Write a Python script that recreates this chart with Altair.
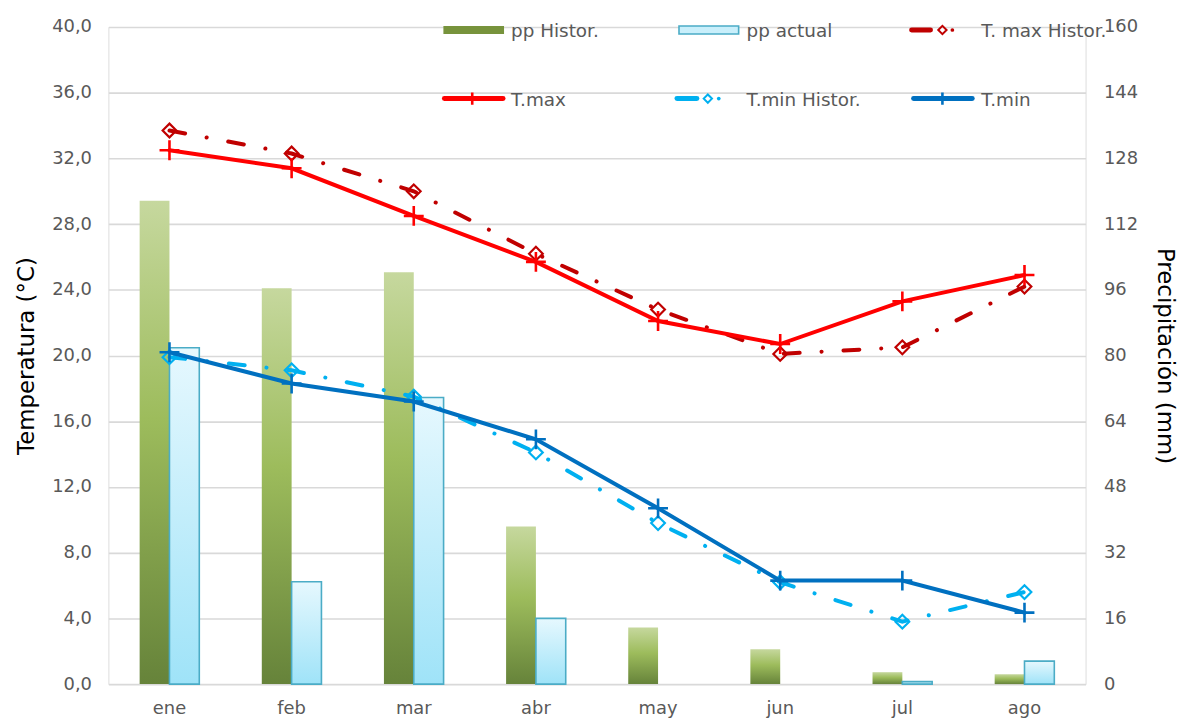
import altair as alt
import pandas as pd

months = ["ene", "feb", "mar", "abr", "may", "jun", "jul", "ago"]
pp_hist = [117.7, 96.4, 100.3, 38.4, 13.8, 8.5, 2.9, 2.4]
pp_act = [81.9, 24.9, 69.8, 16.0, 0.0, 0.0, 0.6, 5.6]
tmax_hist = [33.7, 32.3, 30.0, 26.2, 22.8, 20.1, 20.5, 24.2]
tmax = [32.5, 31.4, 28.5, 25.7, 22.1, 20.7, 23.3, 24.9]
tmin_hist = [19.9, 19.1, 17.5, 14.1, 9.8, 6.2, 3.8, 5.6]
tmin = [20.2, 18.3, 17.2, 14.9, 10.7, 6.3, 6.3, 4.35]
temp_ticks = list(range(0, 41, 4))
pp_ticks = list(range(0, 161, 16))

FONT = "DejaVu Sans"
GRAY = "#595959"

df = pd.DataFrame({
    "mes": months, "pp_hist": pp_hist, "pp_act": pp_act,
    "tmax_hist": tmax_hist, "tmax": tmax, "tmin_hist": tmin_hist, "tmin": tmin,
})
one = pd.DataFrame({"k": [0]})

W, H = 983, 661

xenc = alt.X("mes:N", sort=months,
             scale=alt.Scale(type="band", domain=months, paddingInner=0, paddingOuter=0),
             axis=alt.Axis(title=None, domain=False, ticks=False, grid=False,
                           labelAngle=0, labelFont=FONT, labelFontSize=18,
                           labelColor=GRAY, labelPadding=16))

green_grad = {"gradient": "linear", "x1": 0, "y1": 0, "x2": 0, "y2": 1,
              "stops": [{"offset": 0, "color": "#c6d89e"},
                        {"offset": 0.45, "color": "#9dbc5c"},
                        {"offset": 1, "color": "#66833a"}]}
blue_grad = {"gradient": "linear", "x1": 0, "y1": 0, "x2": 0, "y2": 1,
             "stops": [{"offset": 0, "color": "#e6f8fe"},
                       {"offset": 1, "color": "#9fe3f8"}]}

pp_axis = alt.Axis(orient="right", values=pp_ticks, grid=False, domain=False, ticks=False,
                   labelFont=FONT, labelFontSize=18, labelColor=GRAY, labelPadding=18,
                   title="Precipitación (mm)", titleFont=FONT, titleFontSize=23,
                   titleFontWeight="normal", titleColor="#000000", titlePadding=15)
pp_scale = alt.Scale(domain=[0, 160], nice=False, zero=True)

bar_hist = alt.Chart(df).mark_bar(width=30, xOffset=-15, fill=green_grad).encode(
    x=xenc, y=alt.Y("pp_hist:Q", scale=pp_scale, axis=pp_axis))
bar_act = alt.Chart(df).transform_filter("datum.pp_act > 0").mark_bar(
    width=30, xOffset=15, fill=blue_grad, stroke="#4bacc6", strokeWidth=1.6).encode(
    x=xenc, y=alt.Y("pp_act:Q", scale=pp_scale, axis=pp_axis))
bars = alt.layer(bar_hist, bar_act)

t_axis = alt.Axis(orient="left", values=temp_ticks, grid=True, gridColor="#d9d9d9",
                  gridWidth=1.6, domain=False, ticks=False,
                  labelExpr="replace(format(datum.value, '.1f'), '.', ',')",
                  labelFont=FONT, labelFontSize=18, labelColor=GRAY, labelPadding=17,
                  title="Temperatura (°C)", titleFont=FONT, titleFontSize=23,
                  titleFontWeight="normal", titleColor="#000000", titlePadding=13)
t_scale = alt.Scale(domain=[0, 40], nice=False, zero=True)

PLUS = "M-1,0L1,0M0,-1L0,1"
DASH = [16, 22, 0.1, 22]


def series(field, color, dashed, shape, size):
    base = alt.Chart(df).encode(x=xenc, y=alt.Y(f"{field}:Q", scale=t_scale, axis=t_axis))
    if dashed:
        line = base.mark_line(color=color, strokeWidth=4, strokeDash=DASH, strokeCap="round")
    else:
        line = base.mark_line(color=color, strokeWidth=4, strokeCap="round")
    pts = base.mark_point(shape=shape, size=size, filled=False, color=color,
                          strokeWidth=2.2 if dashed else 2.6, opacity=1)
    return [line, pts]


lines = alt.layer(
    *series("tmax_hist", "#c00000", True, "diamond", 190),
    *series("tmax", "#ff0000", False, PLUS, 400),
    *series("tmin_hist", "#00b0f0", True, "diamond", 190),
    *series("tmin", "#0070c0", False, PLUS, 400),
)


def lrule(x1, x2, y, color, w=5):
    return alt.Chart(one).mark_rule(color=color, strokeWidth=w, strokeCap="round").encode(
        x=alt.value(x1), x2=alt.value(x2), y=alt.value(y))


def lpoint(x, y, shape, color, size, filled=False, sw=2):
    return alt.Chart(one).mark_point(shape=shape, size=size, filled=filled, color=color,
                                     strokeWidth=sw, opacity=1).encode(
        x=alt.value(x), y=alt.value(y))


def ltext(x, y, s):
    return alt.Chart(one).mark_text(text=s, align="left", baseline="alphabetic", font=FONT,
                                    fontSize=18.5, color=GRAY).encode(
        x=alt.value(x), y=alt.value(y))


r1, r2 = 3, 72
t1, t2 = 10, 79
legend = [
    alt.Chart(one).mark_rect(fill="#77933c").encode(
        x=alt.value(337), x2=alt.value(398), y=alt.value(r1 - 4), y2=alt.value(r1 + 4)),
    ltext(405, t1, "pp Histor."),
    alt.Chart(one).mark_rect(fill="#c9effb", stroke="#4bacc6", strokeWidth=1.6).encode(
        x=alt.value(574), x2=alt.value(634), y=alt.value(r1 - 4), y2=alt.value(r1 + 4)),
    ltext(642, t1, "pp actual"),
    lrule(808, 827, r1, "#c00000"),
    lpoint(839, r1, "diamond", "#c00000", 70),
    lpoint(849, r1, "circle", "#c00000", 14, filled=True),
    ltext(878, t1, "T. max Histor."),
    lrule(338, 397, r2, "#ff0000"),
    lpoint(366, r2, PLUS, "#ff0000", 150, sw=2.6),
    ltext(405, t2, "T.max"),
    lrule(572, 592, r2, "#00b0f0"),
    lpoint(603, r2, "diamond", "#00b0f0", 70),
    lpoint(614, r2, "circle", "#00b0f0", 14, filled=True),
    ltext(642, t2, "T.min Histor."),
    lrule(810, 869, r2, "#0070c0"),
    lpoint(839, r2, PLUS, "#0070c0", 150, sw=2.6),
    ltext(878, t2, "T.min"),
]

chart = alt.layer(bars, lines, *legend).resolve_scale(y="independent").properties(
    width=W, height=H,
    autosize=alt.AutoSizeParams(type="none"),
    padding={"left": 101, "top": 17, "right": 95, "bottom": 33},
).configure_view(stroke=None).configure(background="white")

chart.save("out.html", embed_options={"renderer": "svg", "actions": False})
